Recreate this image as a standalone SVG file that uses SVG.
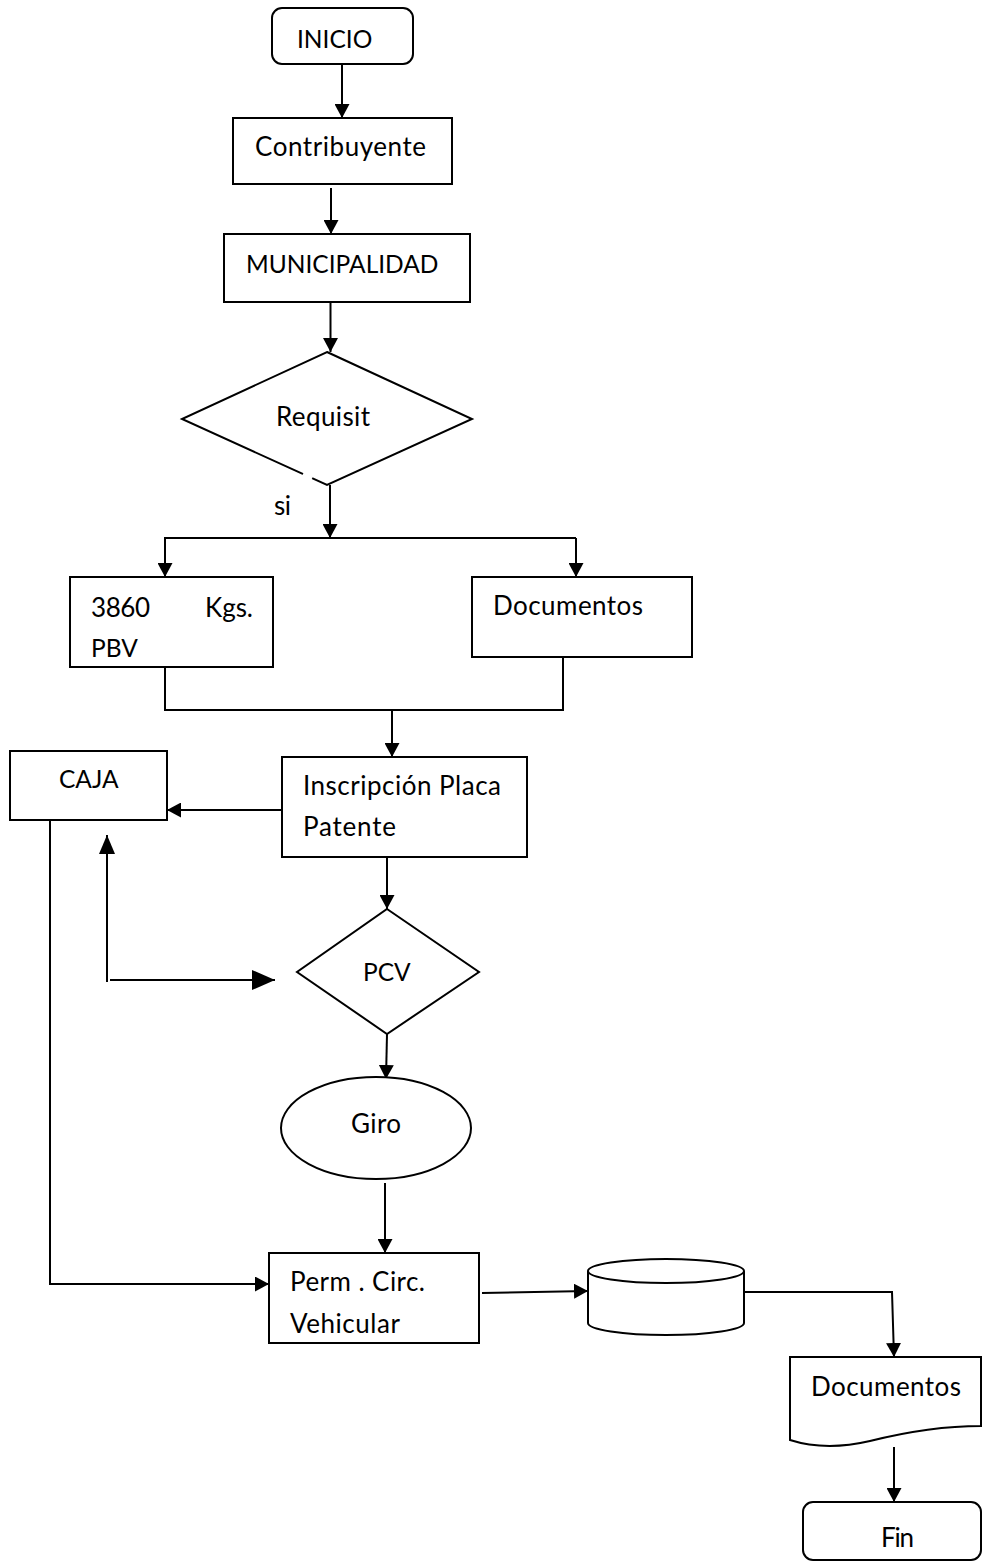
<svg xmlns="http://www.w3.org/2000/svg" width="984" height="1566" viewBox="0 0 984 1566">
<style>
.s{fill:#fff;stroke:#000;stroke-width:2}
.c{fill:none;stroke:#000;stroke-width:2}
text{font-family:Lato,"Open Sans","Liberation Sans",sans-serif;font-size:26px;fill:#000}
text.k{font-size:24.5px}
</style>
<defs>
<marker id="a" markerUnits="userSpaceOnUse" markerWidth="15" markerHeight="15" refX="14" refY="7.5" orient="auto"><path d="M0,0 L14,7.5 L0,15 Z" fill="#000"/></marker>
<marker id="b" markerUnits="userSpaceOnUse" markerWidth="23" markerHeight="20" refX="23" refY="10" orient="auto"><path d="M0,0 L23,10 L0,20 Z" fill="#000"/></marker>
<marker id="u" markerUnits="userSpaceOnUse" markerWidth="19" markerHeight="16" refX="19" refY="8" orient="auto"><path d="M0,0 L19,8 L0,16 Z" fill="#000"/></marker>
</defs>
<rect width="984" height="1566" fill="#fff"/>
<g id="connectors">
<path class="c" d="M342,64 V118" marker-end="url(#a)"/>
<path class="c" d="M331,188 V234" marker-end="url(#a)"/>
<path class="c" d="M330.5,302 V352" marker-end="url(#a)"/>
<path class="c" d="M330,485 V538" marker-end="url(#a)"/>
<path class="c" d="M576,538 H165 V577" marker-end="url(#a)"/>
<path class="c" d="M576,538 V577" marker-end="url(#a)"/>
<path class="c" d="M165,668 V710 H563 V657"/>
<path class="c" d="M392,710 V757" marker-end="url(#a)"/>
<path class="c" d="M282,810 H167" marker-end="url(#a)"/>
<path class="c" d="M387,857 V909" marker-end="url(#a)"/>
<path class="c" d="M107,982 V835" marker-end="url(#u)"/>
<path class="c" d="M110,980 H275" marker-end="url(#b)"/>
<path class="c" d="M387,1034 L386,1079" marker-end="url(#a)"/>
<path class="c" d="M385,1183 V1253" marker-end="url(#a)"/>
<path class="c" d="M50,820 V1284 H269" marker-end="url(#a)"/>
<path class="c" d="M482,1293 L588,1291" marker-end="url(#a)"/>
<path class="c" d="M744,1292 H892 L894,1357" marker-end="url(#a)"/>
<path class="c" d="M894,1447 V1502" marker-end="url(#a)"/>
<text x="274" y="515" textLength="17">si</text>
</g>
<g id="inicio">
<rect class="s" x="272" y="8" width="141" height="56" rx="10"/>
<text class="k" x="297" y="48">INICIO</text>
</g>
<g id="contribuyente">
<rect class="s" x="233" y="118" width="219" height="66"/>
<text x="255" y="156" textLength="171">Contribuyente</text>
</g>
<g id="municipalidad">
<rect class="s" x="224" y="234" width="246" height="68"/>
<text class="k" x="246" y="273">MUNICIPALIDAD</text>
</g>
<g id="requisit">
<polygon class="s" points="327,352 472,419 327,485 182,419"/>
<line x1="303" y1="474" x2="312" y2="478.5" stroke="#fff" stroke-width="4"/>
<text x="276" y="426" textLength="94">Requisit</text>
</g>
<g id="kgs">
<rect class="s" x="70" y="577" width="203" height="90"/>
<text x="91" y="617" textLength="59">3860</text>
<text x="205" y="617" textLength="48">Kgs.</text>
<text class="k" x="91" y="657">PBV</text>
</g>
<g id="documentos1">
<rect class="s" x="472" y="577" width="220" height="80"/>
<text x="493" y="615" textLength="150">Documentos</text>
</g>
<g id="inscripcion">
<rect class="s" x="282" y="757" width="245" height="100"/>
<text x="303" y="795" textLength="198">Inscripción Placa</text>
<text x="303" y="836" textLength="93">Patente</text>
</g>
<g id="caja">
<rect class="s" x="10" y="751" width="157" height="69"/>
<text class="k" x="59" y="788">CAJA</text>
</g>
<g id="pcv">
<polygon class="s" points="387,909 479,972 387,1034 297,972"/>
<text class="k" x="363" y="981">PCV</text>
</g>
<g id="giro">
<ellipse class="s" cx="376" cy="1128" rx="95" ry="51"/>
<text x="351" y="1133" textLength="50">Giro</text>
</g>
<g id="perm">
<rect class="s" x="269" y="1253" width="210" height="90"/>
<text x="290" y="1291" textLength="135">Perm . Circ.</text>
<text x="290" y="1333" textLength="110">Vehicular</text>
</g>
<g id="cilindro">
<path class="s" d="M588,1271 A78,12 0 0 1 744,1271 V1323 A78,12 0 0 1 588,1323 Z"/>
<path class="c" d="M588,1271 A78,12 0 0 0 744,1271"/>
</g>
<g id="documentos2">
<path class="s" d="M790,1357 H981 V1426 C945,1426 910,1431 870,1441 C840,1448 815,1448 790,1440 Z"/>
<text x="811" y="1396" textLength="150">Documentos</text>
</g>
<g id="fin">
<rect class="s" x="803" y="1502" width="178" height="58" rx="10"/>
<text x="881" y="1547" textLength="33">Fin</text>
</g>
</svg>
